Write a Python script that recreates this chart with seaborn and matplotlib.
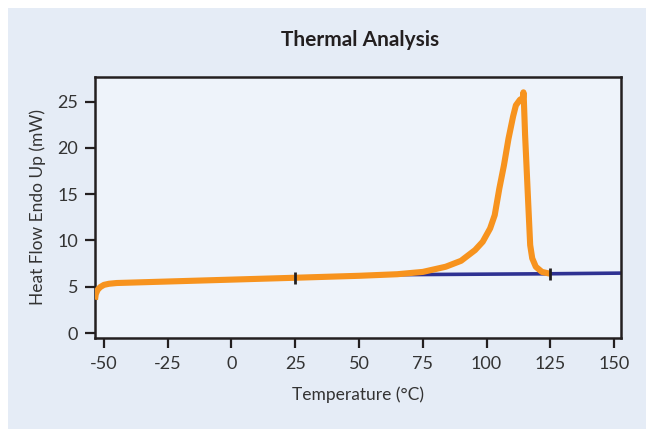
import numpy as np
import pandas as pd
import matplotlib.pyplot as plt
from matplotlib.patches import Rectangle
import seaborn as sns

# heat flow trace
temp_c = [-53.5, -53.2, -52.5, -51.5, -50, -48, -45, 25, 50, 65, 75, 84, 90, 95.5,
          98.5, 101.4, 103.2, 105, 106.8, 108.6, 110.4, 111.5, 113.1, 114.3, 114.45,
          114.6, 115.1, 116.3, 117.1, 117.9, 119.3, 121.7, 125]
heat_flow = [3.6, 4.2, 4.65, 4.95, 5.2, 5.32, 5.4, 5.97, 6.18, 6.35, 6.6, 7.16, 7.8, 8.96,
             9.86, 11.3, 12.74, 15.6, 18.1, 21.0, 23.4, 24.6, 25.2, 25.4, 26.0,
             25.3, 21.4, 14.2, 9.5, 8.07, 7.16, 6.6, 6.4]

# extrapolated baseline
base_temp = [-45, 25, 65, 125, 152.7]
base_flow = [5.4, 5.97, 6.3, 6.4, 6.47]

# integration limits marked on the trace
mark_temp = [25, 125]
mark_flow = [5.97, 6.4]

x_ticks = [-50, -25, 0, 25, 50, 75, 100, 125, 150]
y_ticks = [0, 5, 10, 15, 20, 25]

ORANGE = '#F7931E'
NAVY = '#2E3192'
INK = '#231F20'

sns.set_style('ticks')
plt.rcParams['font.family'] = ['Lato', 'DejaVu Sans']
plt.rcParams['axes.unicode_minus'] = False

fig = plt.figure(figsize=(6.46, 4.30), dpi=100, facecolor='white')
panel = Rectangle((8 / 646, 1 / 430), 638 / 646, 421 / 430,
                  transform=fig.transFigure, facecolor='#E5ECF6',
                  edgecolor='none', zorder=-10)
fig.add_artist(panel)
ax = fig.add_axes([95 / 646, 92 / 430, 526 / 646, 261.4 / 430])
ax.set_facecolor('#EEF3FA')

sns.lineplot(x=base_temp, y=base_flow, ax=ax, color=NAVY, linewidth=2.6, zorder=2)
sns.lineplot(x=temp_c, y=heat_flow, ax=ax, color=ORANGE, linewidth=4.4, sort=False,
             zorder=3, solid_joinstyle='round', solid_capstyle='butt')
ax.plot(mark_temp, mark_flow, linestyle='none', marker='|', markersize=8,
        markeredgewidth=2, color=INK, zorder=4)

ax.set_xlim(-53.5, 152.7)
ax.set_ylim(-0.54, 27.7)
ax.set_xticks(x_ticks)
ax.set_yticks(y_ticks)

for side in ['left', 'right', 'top', 'bottom']:
    ax.spines[side].set_color(INK)
    ax.spines[side].set_linewidth(1.8)
ax.tick_params(axis='both', direction='out', length=7, width=1.6, color=INK,
               labelsize=13, labelcolor='#333333', pad=5)
ax.tick_params(axis='x', pad=6)

ax.set_xlabel('Temperature (°C)', fontsize=12.5, color='#333333', labelpad=10)
ax.set_ylabel('Heat Flow Endo Up (mW)', fontsize=12.5, color='#333333', labelpad=8)
fig.text(0.558, 0.907, 'Thermal Analysis', ha='center', va='center',
         fontsize=15, fontweight='bold', color=INK)

fig.savefig('out.png', dpi=100, facecolor=fig.get_facecolor())
